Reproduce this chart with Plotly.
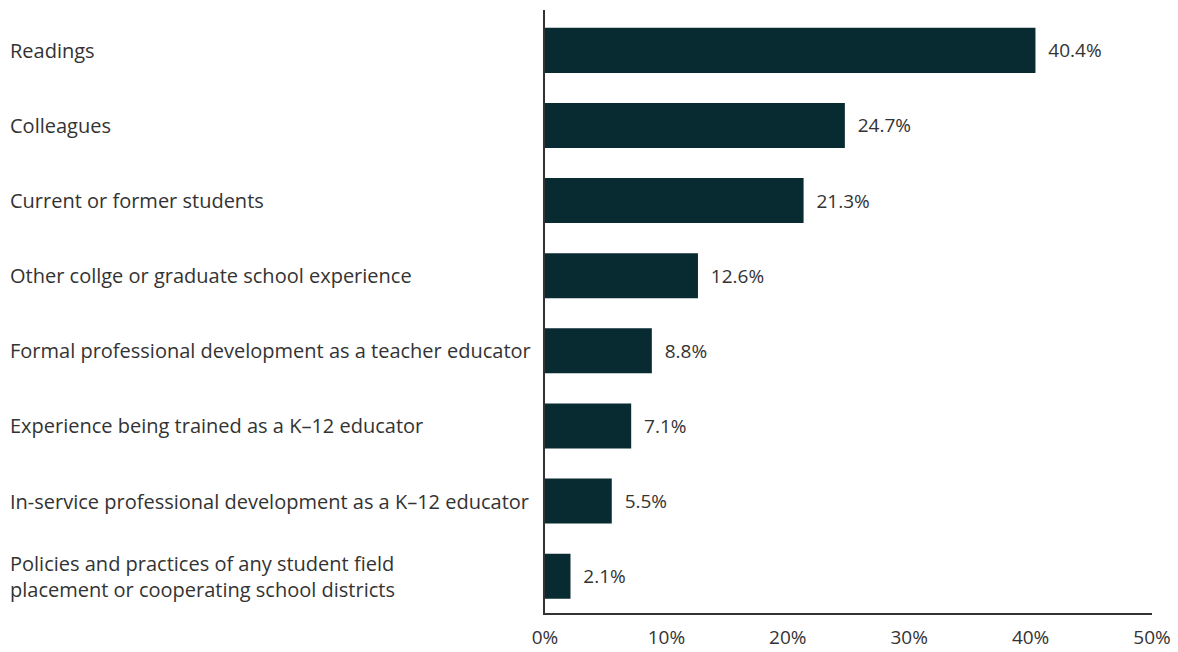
import plotly.graph_objects as go

# Sources categories (top to bottom) and share of respondents (%)
categories = [
    "Readings",
    "Colleagues",
    "Current or former students",
    "Other collge or graduate school experience",
    "Formal professional development as a teacher educator",
    "Experience being trained as a K\u201312 educator",
    "In-service professional development as a K\u201312 educator",
    "Policies and practices of any student field<br>placement or cooperating school districts",
]
values = [40.4, 24.7, 21.3, 12.6, 8.8, 7.1, 5.5, 2.1]
tick_vals = [0, 10, 20, 30, 40, 50]
tick_text = ["0%", "10%", "20%", "30%", "40%", "50%"]

FONT = "Open Sans"
TEXT = "#333333"
BAR = "#082a31"

fig = go.Figure(go.Bar(
    x=values,
    y=categories,
    orientation="h",
    marker=dict(color=BAR, line=dict(width=0)),
    text=[f"  {v:.1f}%" for v in values],
    textposition="outside",
    textfont=dict(family=FONT, size=19, color=TEXT),
    cliponaxis=False,
    hoverinfo="skip",
))

# left-aligned category labels
for cat in categories:
    fig.add_annotation(
        x=-0.885, xref="paper", y=cat, yref="y",
        text=cat, showarrow=False, xanchor="left", align="left",
        font=dict(family=FONT, size=20, color=TEXT),
    )

# page body adds an 8px offset, so the figure is slightly smaller
fig.update_layout(
    width=1170, height=644,
    margin=dict(l=537, r=26, t=2, b=37),
    plot_bgcolor="white", paper_bgcolor="white",
    bargap=0.4,
    showlegend=False,
    xaxis=dict(
        range=[0, 50], tickvals=tick_vals, ticktext=tick_text,
        showgrid=False, zeroline=False,
        showline=True, linecolor="#333333", linewidth=1.5,
        tickfont=dict(family=FONT, size=19, color=TEXT),
        ticks="", ticklen=0, ticklabelstandoff=6,
    ),
    yaxis=dict(
        range=[7.49, -0.537], showticklabels=False,
        showgrid=False, zeroline=False,
        showline=True, linecolor="#333333", linewidth=1.5,
        ticks="",
    ),
)

fig.write_html("out.html")
